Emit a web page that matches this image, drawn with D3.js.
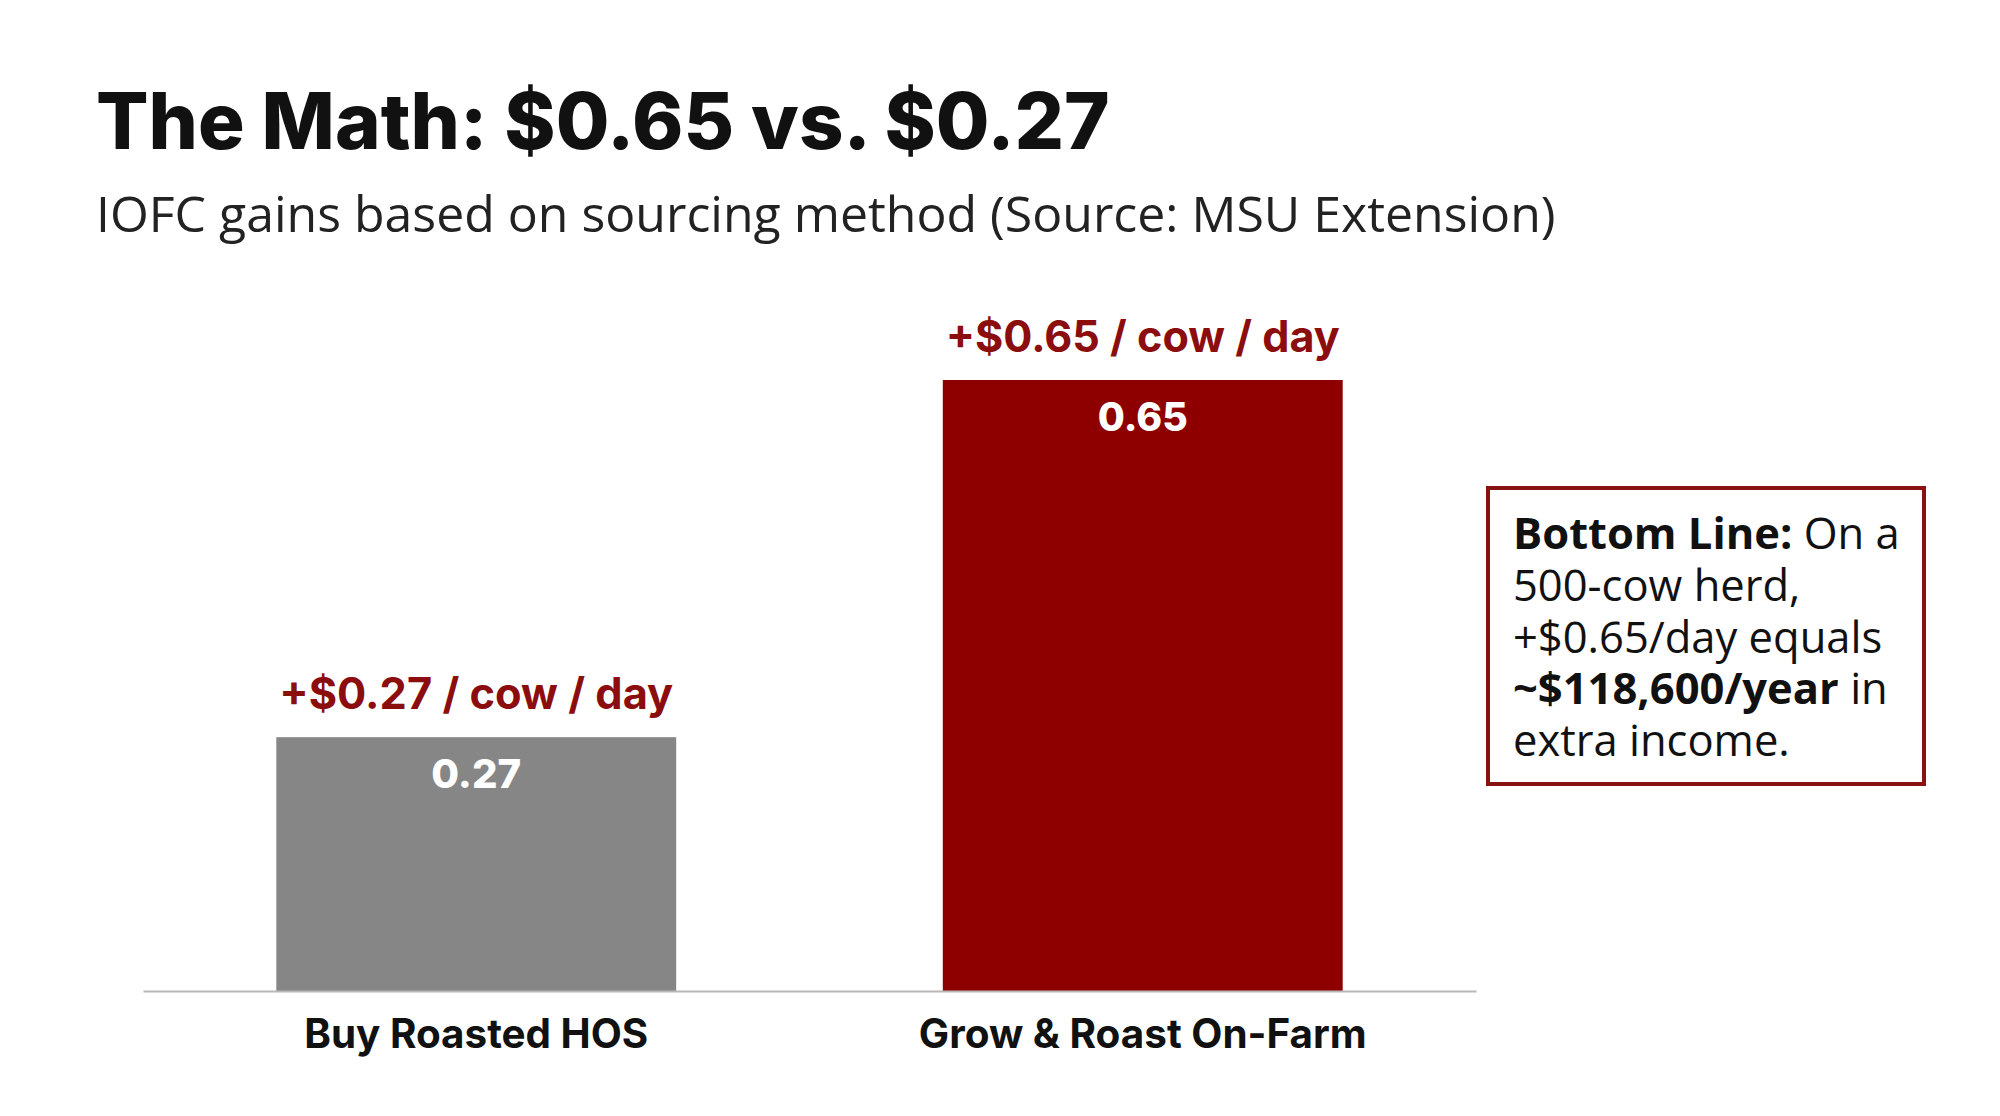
<!DOCTYPE html>
<html>
<head>
<meta charset="utf-8">
<script src="https://cdn.jsdelivr.net/npm/d3@7"></script>
<style>
  body { margin: 0; background: #fff; }
  svg { display: block; }
</style>
</head>
<body>
<svg width="2000" height="1116"></svg>
<script>
// data
const categories = ["Buy Roasted HOS", "Grow & Roast On-Farm"];
const values = [0.27, 0.65];
const topLabels = ["+$0.27 / cow / day", "+$0.65 / cow / day"];
const barColors = ["#868686", "#8e0000"];
const titleText = "The Math: $0.65 vs. $0.27";
const subtitleText = "IOFC gains based on sourcing method (Source: MSU Extension)";
const noteLines = [
    [{t: "Bottom Line:", b: true}, {t: " On a", b: false}],
    [{t: "500-cow herd,", b: false}],
    [{t: "+$0.65/day equals", b: false}],
    [{t: "~$118,600/year", b: true}, {t: " in", b: false}],
    [{t: "extra income.", b: false}]
];

const svg = d3.select("svg");
const headFont = "Inter, 'Open Sans', sans-serif";
const bodyFont = "'Open Sans', 'Noto Sans', sans-serif";

// scale the font so the text spans the wanted width
function fit(sel, w) {
    const len = sel.node().getComputedTextLength();
    const fs = parseFloat(sel.attr("font-size"));
    sel.attr("font-size", fs * w / len);
}

svg.append("text")
    .attr("x", 96).attr("y", 149)
    .attr("font-family", headFont)
    .attr("font-weight", 800)
    .attr("font-size", 80)
    .attr("fill", "#111")
    .text(titleText)
    .call(fit, 1014);

svg.append("text")
    .attr("x", 96).attr("y", 232)
    .attr("font-family", bodyFont)
    .attr("font-size", 46)
    .attr("fill", "#222")
    .text(subtitleText)
    .call(fit, 1460);

const margin = {left: 143, right: 1476, bottom: 991};
const x = d3.scaleBand()
    .domain(categories)
    .range([margin.left, margin.right])
    .paddingInner(0.4)
    .paddingOuter(0.2);

const y = d3.scaleLinear()
    .domain([0, 0.7])
    .range([margin.bottom, margin.bottom - 0.7 * 940]);

const data = categories.map((c, i) => ({cat: c, value: values[i], label: topLabels[i], color: barColors[i]}));

const g = svg.append("g");

g.selectAll("rect.bar")
    .data(data)
    .enter().append("rect")
    .attr("class", "bar")
    .attr("x", d => x(d.cat))
    .attr("width", x.bandwidth())
    .attr("y", d => y(d.value))
    .attr("height", d => y(0) - y(d.value))
    .attr("fill", d => d.color);

// baseline axis
const axis = g.append("g")
    .attr("transform", `translate(0,${y(0)})`)
    .call(d3.axisBottom(x).tickSize(0).tickPadding(0));
axis.select(".domain").attr("stroke", "#b8b8b8").attr("stroke-width", 2);
axis.selectAll(".tick text").remove();

g.selectAll("text.cat")
    .data(data)
    .enter().append("text")
    .attr("class", "cat")
    .attr("x", d => x(d.cat) + x.bandwidth() / 2)
    .attr("y", y(0) + 57)
    .attr("text-anchor", "middle")
    .attr("font-family", headFont)
    .attr("font-weight", 700)
    .attr("font-size", 36)
    .attr("fill", "#111")
    .text(d => d.cat)
    .each(function(d, i) { d3.select(this).call(fit, [344, 448][i]); });

g.selectAll("text.top")
    .data(data)
    .enter().append("text")
    .attr("class", "top")
    .attr("x", d => x(d.cat) + x.bandwidth() / 2)
    .attr("y", d => y(d.value) - 28)
    .attr("text-anchor", "middle")
    .attr("font-family", headFont)
    .attr("font-weight", 700)
    .attr("font-size", 40)
    .attr("fill", "#8b0d0d")
    .text(d => d.label)
    .call(sel => sel.each(function() { d3.select(this).call(fit, 394); }));

g.selectAll("text.val")
    .data(data)
    .enter().append("text")
    .attr("class", "val")
    .attr("x", d => x(d.cat) + x.bandwidth() / 2)
    .attr("y", d => y(d.value) + 51)
    .attr("text-anchor", "middle")
    .attr("font-family", headFont)
    .attr("font-weight", 800)
    .attr("font-size", 40)
    .attr("fill", "#fff")
    .text(d => d.value.toFixed(2))
    .call(sel => sel.each(function() { d3.select(this).call(fit, 90); }));

// note box
const box = svg.append("g").attr("transform", "translate(1488,488)");
box.append("rect")
    .attr("width", 436).attr("height", 296)
    .attr("fill", "#fff")
    .attr("stroke", "#8b1010")
    .attr("stroke-width", 4);

const note = box.append("text")
    .attr("font-family", bodyFont)
    .attr("font-size", 43.5)
    .attr("fill", "#111");

noteLines.forEach((line, i) => {
    const t = note.append("tspan").attr("x", 25).attr("y", 61 + i * 51.8);
    line.forEach((seg, j) => {
        const s = j === 0 ? t : note.append("tspan");
        s.attr("font-weight", seg.b ? 700 : 400).text(seg.t);
    });
});
</script>
</body>
</html>
